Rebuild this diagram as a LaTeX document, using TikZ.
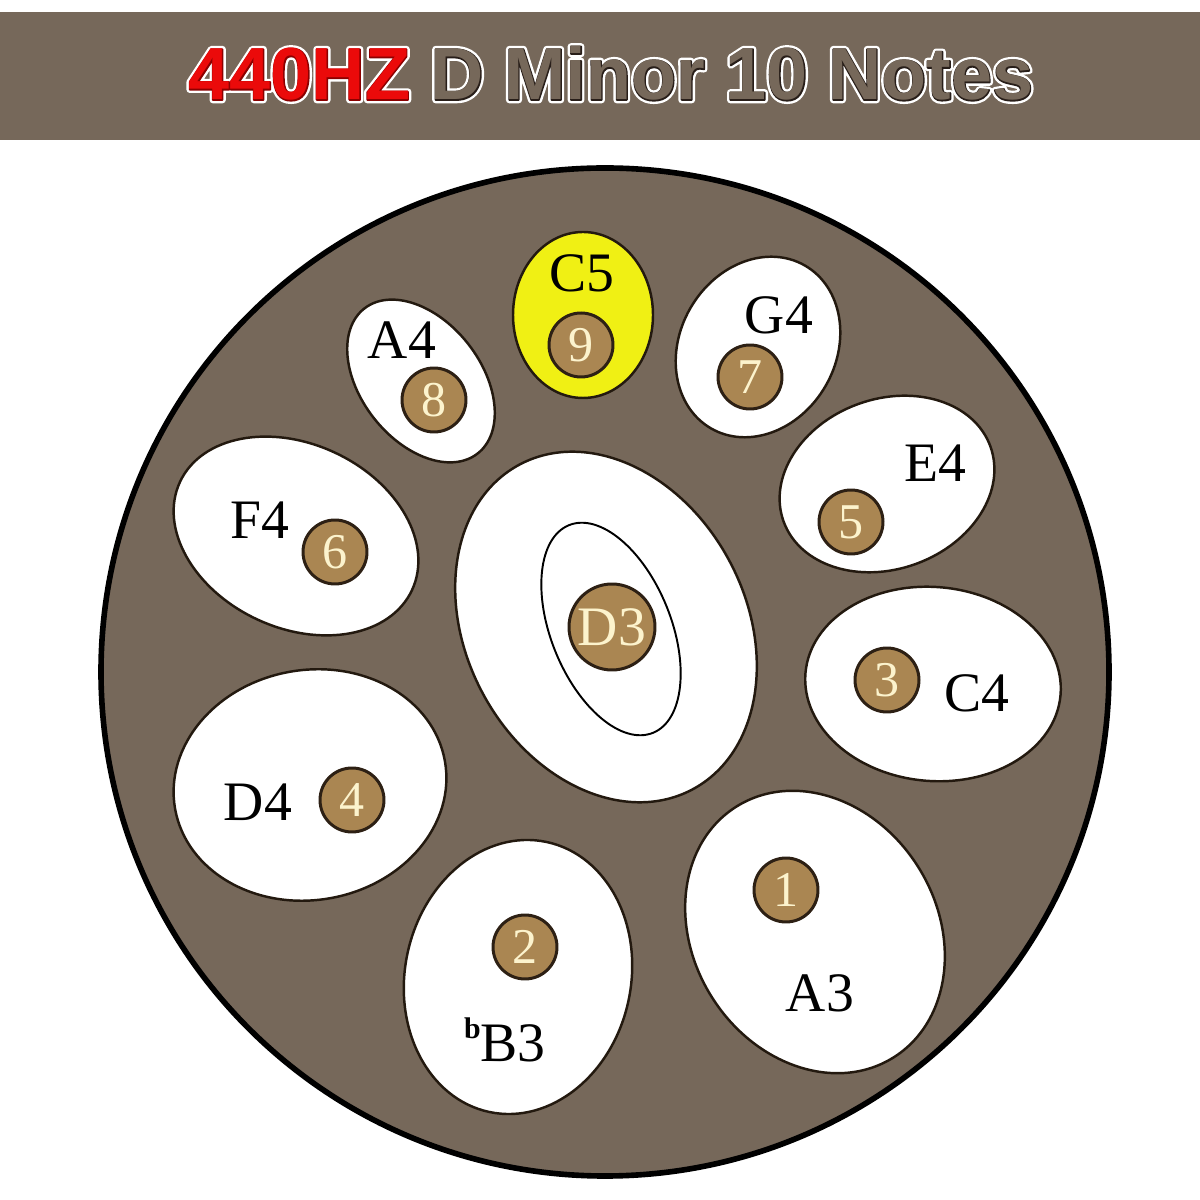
\documentclass[tikz,border=0pt]{standalone}
\usepackage{fontspec}
\setmainfont{Liberation Serif}
\newfontfamily\bannerfont{Liberation Sans Bold}
\newfontfamily\bannerline{Liberation Sans Bold}[FakeBold=2.5]
\newfontfamily\bannerhalo{Liberation Sans Bold}[FakeBold=9]

\definecolor{panbrown}{RGB}{118,104,90}
\definecolor{padline}{RGB}{35,25,15}
\definecolor{padyellow}{RGB}{240,240,20}
\definecolor{tonefill}{RGB}{170,134,82}
\definecolor{toneline}{RGB}{45,32,20}
\definecolor{tonetext}{RGB}{252,243,205}
\definecolor{titlered}{RGB}{235,10,10}
\definecolor{redline}{RGB}{140,0,0}
\definecolor{inkline}{RGB}{40,30,25}

\newcommand{\bannertext}[2]{\pgfsetroundjoin\textcolor{#1}{440HZ} \textcolor{#2}{D Minor 10 Notes}}

\begin{document}
\begin{tikzpicture}[x=0.02cm, y=0.02cm,
		pad/.style={draw=padline, line width=1.4pt, fill=white},
		tone/.style={circle, draw=toneline, line width=1.7pt, fill=tonefill, text=tonetext,
			minimum size=1.28cm, inner sep=0pt, font=\fontsize{28.5}{30}\selectfont},
		note/.style={inner sep=0pt, text=black, font=\fontsize{31.7}{34}\selectfont},
		banner/.style={inner sep=0pt, anchor=base}]
				% Background, banner and title:
				\fill[white] (0,0) rectangle (1200,1200);
				\useasboundingbox (0,0) rectangle (1200,1200);
				\fill[panbrown] (0,1060) rectangle (1200,1188);
				\node[banner, font=\bannerhalo\fontsize{42}{46}\selectfont] (halo) at (611,1100) {\bannertext{white}{white}};
				\node[banner, font=\bannerline\fontsize{42}{46}\selectfont] (rim) at (611,1100) {\bannertext{redline}{inkline}};
				\node[banner, font=\bannerfont\fontsize{42}{46}\selectfont] (title) at (611,1100) {\bannertext{titlered}{panbrown}};
				% Pan and tone fields:
				\draw[line width=3.2pt, fill=panbrown] (605,528) circle [radius=504];
				\draw[pad, fill=padyellow] (583,885) ellipse [x radius=70, y radius=83];
				\draw[pad, rotate around={38:(421,819)}] (421,819) ellipse [x radius=60, y radius=92];
				\draw[pad, rotate around={-30:(758,853)}] (758,853) ellipse [x radius=78, y radius=94];
				\draw[pad, rotate around={20:(887,716)}] (887,716) ellipse [x radius=110, y radius=85];
				\draw[pad, rotate around={-25:(296,664)}] (296,664) ellipse [x radius=128, y radius=92];
				\draw[pad, rotate around={28:(606,573)}] (606,573) ellipse [x radius=140, y radius=184];
				\draw[line width=1.1pt, rotate around={22:(611,571)}] (611,571) ellipse [x radius=60, y radius=112];
				\draw[pad, rotate around={-5:(933,516)}] (933,516) ellipse [x radius=128, y radius=97];
				\draw[pad, rotate around={10:(310,415)}] (310,415) ellipse [x radius=137, y radius=115];
				\draw[pad, rotate around={-12:(518,223)}] (518,223) ellipse [x radius=113, y radius=138];
				\draw[pad, rotate around={32:(815,268)}] (815,268) ellipse [x radius=122, y radius=148];
				% Tones:
				\node[tone, minimum size=1.72cm, font=\fontsize{31.7}{34}\selectfont] (ding) at (612,573) {D3};
				\node[tone] (t1) at (786,310) {1};
				\node[tone] (t2) at (525,253) {2};
				\node[tone] (t3) at (887,520) {3};
				\node[tone] (t4) at (352,400) {4};
				\node[tone] (t5) at (851,678) {5};
				\node[tone] (t6) at (335,648) {6};
				\node[tone] (t7) at (750,823) {7};
				\node[tone] (t8) at (434,800) {8};
				\node[tone] (t9) at (581,855) {9};
				% Note names:
				\node[note] (c5) at (582,927) {C5};
				\node[note] (a4) at (402,860) {A4};
				\node[note] (g4) at (779,885) {G4};
				\node[note] (e4) at (935,737) {E4};
				\node[note] (f4) at (260,680) {F4};
				\node[note] (c4) at (977,507) {C4};
				\node[note] (d4) at (258,398) {D4};
				\node[note] (b3) at (505,160) {\raisebox{0.42em}{\fontsize{17}{17}\selectfont\bfseries b}B3};
				\node[note] (a3) at (820,207) {A3};
			\end{tikzpicture}
\end{document}
